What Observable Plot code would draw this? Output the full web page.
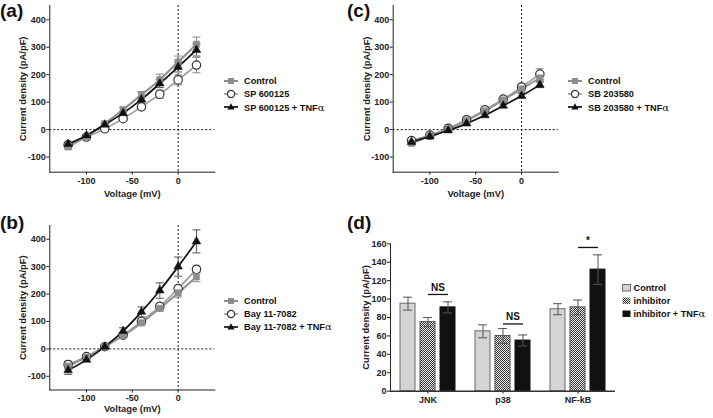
<!DOCTYPE html>
<html><head><meta charset="utf-8">
<script src="https://cdn.jsdelivr.net/npm/d3@7"></script>
<script src="https://cdn.jsdelivr.net/npm/@observablehq/plot@0.6"></script>
<style>
body{margin:0;background:#fff;font-family:"Liberation Sans",Arial,sans-serif;}
#fig{position:relative;width:713px;height:418px;overflow:hidden;background:#fff}
.panel{position:absolute;}
.plab{position:absolute;font-weight:bold;font-size:19px;line-height:19px;color:#111}
.legend{position:absolute;font-weight:bold;font-size:9.2px;color:#111}
.legend .row{position:absolute;left:0;display:flex;align-items:center;height:12px;white-space:nowrap}
.legend svg{margin-right:4px}
.alpha{font-family:"DejaVu Serif",serif;font-weight:normal;font-size:10px}
svg g[aria-label$="axis label"] text{font-size:9.4px}
</style>
</head><body>
<div id="fig"></div>
<script>
// ---------- data ----------
const voltage = [-120, -100, -80, -60, -40, -20, 0, 20];

const aNames = ["Control", "SP 600125", "SP 600125 + TNF"];
const aControl = [-63, -25, 22, 73, 127, 182, 246, 311];
const aControlErr = [8, 5, 5, 8, 12, 20, 22, 26];
const aInhib = [-55, -27, 3, 40, 83, 129, 181, 235];
const aInhibErr = [6, 4, 4, 6, 9, 15, 18, 28];
const aTnf = [-52, -21, 18, 60, 110, 168, 228, 290];
const aTnfErr = [5, 4, 4, 6, 10, 15, 18, 22];

const bNames = ["Control", "Bay 11-7082", "Bay 11-7082 + TNF"];
const bControl = [-63, -30, 8, 48, 95, 148, 204, 263];
const bControlErr = [10, 5, 4, 6, 8, 10, 15, 18];
const bInhib = [-57, -28, 8, 50, 100, 155, 220, 290];
const bInhibErr = [12, 5, 4, 6, 8, 10, 12, 12];
const bTnf = [-78, -40, 8, 65, 135, 213, 300, 392];
const bTnfErr = [15, 6, 5, 12, 18, 28, 35, 42];

const cNames = ["Control", "SB 203580", "SB 203580 + TNF"];
const cControl = [-50, -23, 3, 33, 68, 108, 148, 188];
const cControlErr = [5, 4, 3, 5, 6, 8, 12, 12];
const cInhib = [-40, -20, 5, 36, 72, 111, 155, 202];
const cInhibErr = [5, 4, 3, 5, 6, 8, 12, 20];
const cTnf = [-45, -25, -3, 22, 52, 87, 123, 163];
const cTnfErr = [4, 3, 3, 4, 5, 6, 8, 10];

const dGroups = ["JNK", "p38", "NF-kB"];
const dConditions = ["Control", "inhibitor", "inhibitor + TNF"];
const dControl = [95, 65, 89];
const dControlErr = [7, 7, 6];
const dInhib = [75, 60, 91];
const dInhibErr = [5, 8, 8];
const dTnf = [91, 55, 132];
const dTnfErr = [6, 6, 16];
const dSigY = [105, 73, 156];
const dSigLabel = ["NS", "NS", "*"];

const ivTicksY = [-100, 0, 100, 200, 300, 400];
const ivTicksX = [-100, -50, 0];
const dTicksY = [0, 20, 40, 60, 80, 100, 120, 140, 160];

// ---------- styles ----------
const GRAY = "#8d8d8d";
const GRAY2 = "#9a9a9a";
const BLACK = "#111";
const fig = document.getElementById("fig");

const capSymbol = {draw(ctx) { ctx.moveTo(-4, 0); ctx.lineTo(4, 0); }};

function rows(ys, errs) {
  return voltage.map((v, i) => ({v, y: ys[i], lo: ys[i] - errs[i], hi: ys[i] + errs[i]}));
}

function place(el, left, top) {
  el.classList.add("panel");
  el.style.left = left + "px";
  el.style.top = top + "px";
  fig.appendChild(el);
}

function ivPanel(cfg) {
  const c = rows(cfg.control, cfg.controlErr);
  const s = rows(cfg.inhib, cfg.inhibErr);
  const t = rows(cfg.tnf, cfg.tnfErr);
  const err = (d, stroke) => [
    Plot.ruleX(d, {x: "v", y1: "lo", y2: "hi", stroke, strokeWidth: 1}),
    Plot.dot(d, {x: "v", y: "hi", symbol: capSymbol, stroke, strokeWidth: 1, fill: "none"}),
    Plot.dot(d, {x: "v", y: "lo", symbol: capSymbol, stroke, strokeWidth: 1, fill: "none"})
  ];
  return Plot.plot({
    width: cfg.width, height: cfg.height,
    marginLeft: cfg.marginLeft, marginRight: cfg.marginRight,
    marginTop: cfg.marginTop, marginBottom: cfg.marginBottom,
    style: {fontFamily: "Liberation Sans, Arial, sans-serif", fontWeight: "bold", fontSize: "9px", color: "#222", background: "transparent", overflow: "visible"},
    x: {domain: [-140, 40], ticks: ivTicksX, tickSize: 3, tickPadding: 2, tickFormat: d => String(d), label: "Voltage (mV)", labelAnchor: "center", labelOffset: cfg.xlabelOffset, labelArrow: false, line: true},
    y: {domain: cfg.yDomain, ticks: ivTicksY, tickSize: 3, tickPadding: 1, tickFormat: d => String(d), label: "Current density (pA/pF)", labelAnchor: "center", labelOffset: cfg.ylabelOffset, labelArrow: false, line: true},
    marks: [
      Plot.ruleY([0], {stroke: BLACK, strokeWidth: 1, strokeDasharray: "2,2"}),
      Plot.ruleX([0], {stroke: BLACK, strokeWidth: 1, strokeDasharray: "2,2"}),
      ...err(c, "#888"),
      ...err(s, "#888"),
      ...err(t, "#555"),
      Plot.line(c, {x: "v", y: "y", stroke: GRAY, strokeWidth: 2, curve: "catmull-rom"}),
      Plot.line(s, {x: "v", y: "y", stroke: GRAY2, strokeWidth: 1.6, curve: "catmull-rom"}),
      Plot.line(t, {x: "v", y: "y", stroke: BLACK, strokeWidth: 1.7, curve: "catmull-rom"}),
      Plot.dot(s, {x: "v", y: "y", r: 4.2, fill: "white", stroke: "#333", strokeWidth: 1.2}),
      Plot.dot(c, {x: "v", y: "y", symbol: "square", r: 3.6, fill: GRAY, stroke: GRAY, strokeWidth: 0.5}),
      Plot.dot(t, {x: "v", y: "y", symbol: "triangle", r: 3.2, fill: BLACK, stroke: BLACK, strokeWidth: 0.5})
    ]
  });
}

function lineLegend(names, left, top) {
  const div = document.createElement("div");
  div.className = "legend";
  div.style.left = left + "px";
  div.style.top = top + "px";
  const sym = [
    `<line x1="0" y1="5" x2="14" y2="5" stroke="${GRAY}" stroke-width="2"/><rect x="4" y="2" width="6" height="6" fill="${GRAY}"/>`,
    `<line x1="0" y1="5" x2="14" y2="5" stroke="${GRAY2}" stroke-width="1.6"/><circle cx="7" cy="5" r="3.6" fill="white" stroke="#333" stroke-width="1.2"/>`,
    `<line x1="0" y1="5" x2="14" y2="5" stroke="${BLACK}" stroke-width="1.7"/><path d="M7,1.2L10.6,7.5L3.4,7.5Z" fill="${BLACK}"/>`
  ];
  names.forEach((n, i) => {
    const r = document.createElement("div");
    r.className = "row";
    r.style.top = (i * 13.2) + "px";
    r.innerHTML = `<svg width="14" height="10" style="margin-right:6px">${sym[i]}</svg><span>${n}${i === 2 ? '<span class="alpha">α</span>' : ''}</span>`;
    div.appendChild(r);
  });
  fig.appendChild(div);
}

function label(txt, left, top) {
  const d = document.createElement("div");
  d.className = "plab";
  d.textContent = txt;
  d.style.left = left + "px";
  d.style.top = top + "px";
  fig.appendChild(d);
}

// ---------- panels a, b, c ----------
place(ivPanel({control: aControl, controlErr: aControlErr, inhib: aInhib, inhibErr: aInhibErr, tnf: aTnf, tnfErr: aTnfErr, yDomain: [-155, 452],
  width: 355, height: 200, marginLeft: 49.3, marginRight: 140.7, marginTop: 5, marginBottom: 28.3, ylabelOffset: 30, xlabelOffset: 25}), 0, 0);
place(ivPanel({control: bControl, controlErr: bControlErr, inhib: bInhib, inhibErr: bInhibErr, tnf: bTnf, tnfErr: bTnfErr, yDomain: [-150, 450],
  width: 355, height: 198, marginLeft: 49.3, marginRight: 140.7, marginTop: 5, marginBottom: 28.5, ylabelOffset: 30, xlabelOffset: 22}), 0, 220);
place(ivPanel({control: cControl, controlErr: cControlErr, inhib: cInhib, inhibErr: cInhibErr, tnf: cTnf, tnfErr: cTnfErr, yDomain: [-155, 452],
  width: 358, height: 200, marginLeft: 37.7, marginRight: 155.3, marginTop: 5, marginBottom: 28.3, ylabelOffset: 30, xlabelOffset: 25}), 355, 0);

lineLegend(aNames, 224, 75);
lineLegend(bNames, 224, 294.5);
lineLegend(cNames, 568, 75);

// ---------- panel d ----------
const dRows = [];
dGroups.forEach((g, i) => {
  [[dControl, dControlErr], [dInhib, dInhibErr], [dTnf, dTnfErr]].forEach(([v, e], j) => {
    dRows.push({group: g, cond: dConditions[j], value: v[i], lo: v[i] - e[i], hi: v[i] + e[i]});
  });
});
const dSig = dGroups.map((g, i) => ({group: g, y: dSigY[i], text: dSigLabel[i]}));
const fills = ["#d4d4d4", "url(#chkD)", "#111"];
const strokes = ["#6a6a6a", "#555", "#111"];

const dPlot = Plot.plot({
  width: 358, height: 198,
  marginLeft: 35, marginRight: 98, marginTop: 23.3, marginBottom: 27.3,
  style: {fontFamily: "Liberation Sans, Arial, sans-serif", fontWeight: "bold", fontSize: "9px", color: "#222", background: "transparent", overflow: "visible"},
  fx: {domain: dGroups, padding: 0, label: null, tickSize: 3, tickPadding: 2},
  x: {domain: dConditions, paddingInner: 0.275, paddingOuter: 0.5125, axis: null},
  y: {domain: [0, 160], ticks: dTicksY, tickSize: 3, tickPadding: 1, label: "Current density (pA/pF)", labelAnchor: "center", labelOffset: 28, labelArrow: false, line: true},
  marks: [
    Plot.barY(dRows, {fx: "group", x: "cond", y: "value", fill: d => fills[dConditions.indexOf(d.cond)], stroke: d => strokes[dConditions.indexOf(d.cond)], strokeWidth: 1}),
    Plot.ruleX(dRows, {fx: "group", x: "cond", y1: "lo", y2: "hi", stroke: "#555", strokeWidth: 1}),
    Plot.tickY(dRows, {fx: "group", x: "cond", y: "hi", stroke: "#555", strokeWidth: 1, inset: 3}),
    Plot.tickY(dRows, {fx: "group", x: "cond", y: "lo", stroke: "#555", strokeWidth: 1, inset: 3}),
    Plot.ruleY([0], {stroke: "#333", strokeWidth: 1.5}),
    Plot.link(dSig, {fx: "group", x1: () => dConditions[1], x2: () => dConditions[2], y1: "y", y2: "y", stroke: "#111", strokeWidth: 1.3}),
    Plot.text(dSig, {fx: "group", x: () => dConditions[1], y: "y", text: "text", dx: 10, dy: -7, fontSize: 10, fill: "#111"})
  ]
});
dPlot.insertAdjacentHTML("afterbegin",
  `<defs><pattern id="chkD" width="2" height="2" patternUnits="userSpaceOnUse"><rect width="2" height="2" fill="#eee"/><rect width="1" height="1" fill="#333"/><rect x="1" y="1" width="1" height="1" fill="#333"/></pattern></defs>`);
place(dPlot, 355, 220);

// legend d
(function () {
  const div = document.createElement("div");
  div.className = "legend";
  div.style.left = "621.5px";
  div.style.top = "281.5px";
  const sw = [
    `<rect x="0.5" y="1.5" width="8" height="6.5" fill="#d4d4d4" stroke="#6a6a6a"/>`,
    `<defs><pattern id="chkL" width="2" height="2" patternUnits="userSpaceOnUse"><rect width="2" height="2" fill="#eee"/><rect width="1" height="1" fill="#333"/><rect x="1" y="1" width="1" height="1" fill="#333"/></pattern></defs><rect x="0.5" y="1.5" width="8" height="6.5" fill="url(#chkL)"/>`,
    `<rect x="0.5" y="1.5" width="8" height="6.5" fill="#111"/>`
  ];
  dConditions.forEach((n, i) => {
    const r = document.createElement("div");
    r.className = "row";
    r.style.top = (i * 13.2) + "px";
    r.innerHTML = `<svg width="9" height="10" style="margin-right:3px">${sw[i]}</svg><span>${n}${i === 2 ? '<span class="alpha">α</span>' : ''}</span>`;
    div.appendChild(r);
  });
  fig.appendChild(div);
})();

label("(a)", 0, 1);
label("(b)", 0, 213);
label("(c)", 347, 1);
label("(d)", 347, 213);
</script>
</body></html>
